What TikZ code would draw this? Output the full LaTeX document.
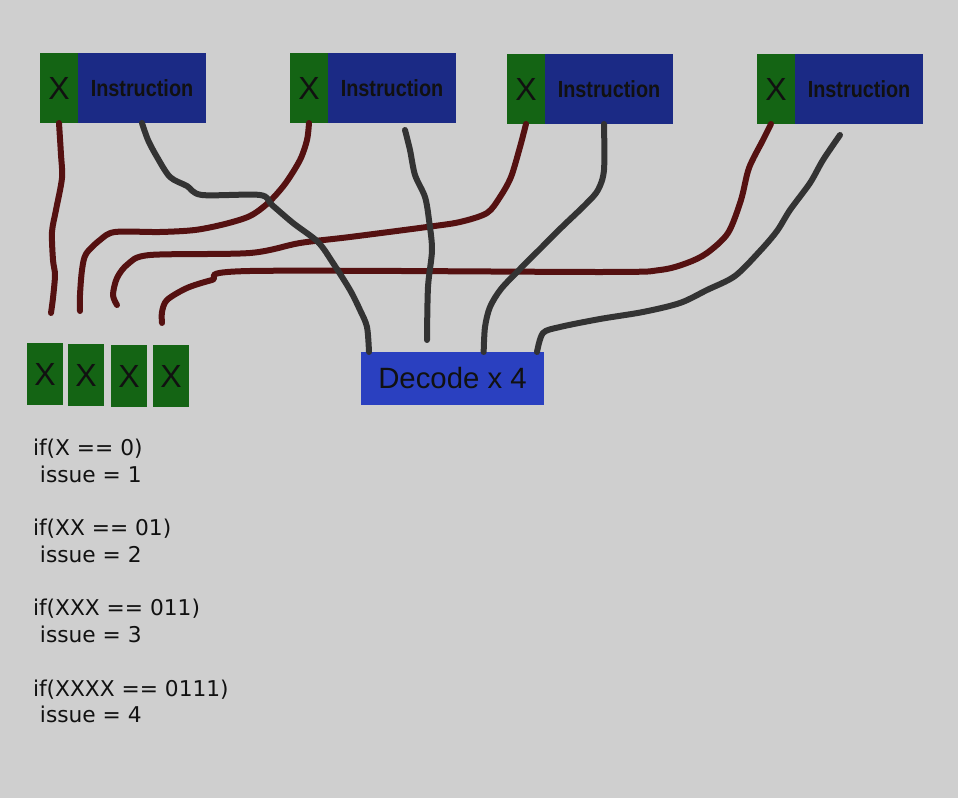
\documentclass[tikz,border=0pt]{standalone}
\usepackage{fontspec}
\setmainfont{DejaVu Sans}
\newfontfamily\boxfont{Liberation Sans}
\newfontfamily\instrfont[FakeStretch=0.85]{Liberation Sans}
\usetikzlibrary{positioning}
\definecolor{bg}{RGB}{207,207,207}
\definecolor{xgreen}{RGB}{20,100,20}
\definecolor{iblue}{RGB}{27,42,133}
\definecolor{dblue}{RGB}{42,64,192}
\definecolor{redwirec}{RGB}{85,17,17}
\definecolor{graywirec}{RGB}{51,51,51}
\definecolor{ink}{RGB}{17,17,17}

\begin{document}
\begin{tikzpicture}[x=0.75pt,y=-0.75pt,
  every node/.style={inner sep=0pt, outer sep=0pt, text=ink},
  xbox/.style={fill=xgreen, minimum width=28.5pt, minimum height=52.5pt,
    anchor=north west, font=\boxfont\fontsize{24}{26}\selectfont},
  instr/.style={fill=iblue, minimum width=96pt, minimum height=52.5pt,
    font=\instrfont\bfseries\fontsize{17.5}{20}\selectfont},
  flagbox/.style={fill=xgreen, minimum width=27pt, minimum height=46.5pt,
    anchor=north west, font=\boxfont\fontsize{24}{26}\selectfont},
  decodebox/.style={fill=dblue, minimum width=137.25pt, minimum height=39.75pt,
    anchor=north west, font=\boxfont\fontsize{22}{24}\selectfont},
  code/.style={anchor=base west, font=\fontsize{16.3}{19}\selectfont},
  redwire/.style={draw=redwirec, line width=4.5pt, line cap=round, line join=round},
  graywire/.style={draw=graywirec, line width=4.5pt, line cap=round, line join=round}
  ]
  \fill[bg] (0,0) rectangle (958,798);
  \useasboundingbox (0,0) rectangle (958,798);

  % instruction words
  \node[xbox] (x1) at (40,53) {X};
  \node[instr, right=0pt of x1] (in1) {Instruction};
  \node[xbox] (x2) at (290,53) {X};
  \node[instr, right=0pt of x2] (in2) {Instruction};
  \node[xbox] (x3) at (507,54) {X};
  \node[instr, right=0pt of x3] (in3) {Instruction};
  \node[xbox] (x4) at (757,54) {X};
  \node[instr, right=0pt of x4] (in4) {Instruction};

  % collected bits
  \node[flagbox] (b1) at (27,343) {X};
  \node[flagbox] (b2) at (68,344) {X};
  \node[flagbox] (b3) at (111,345) {X};
  \node[flagbox] (b4) at (153,345) {X};

  \node[decodebox] (dec) at (361,352) {Decode x 4};

  % loose wire ends
  \coordinate (e1) at (51,313);
  \coordinate (e2) at (80,311);
  \coordinate (e3) at (117,305);
  \coordinate (e4) at (162,323);
  \coordinate (s2) at (405,130);
  \coordinate (t2) at (427,340);
  \coordinate (s4) at (840,135);

  % X bits down to the flag boxes
  \draw[redwire] plot[smooth, tension=0.5] coordinates {(x1.south) (61,155) (62,178)
    (56,210) (52,232) (53,260) (55,275) (53,298) (e1)};
  \draw[redwire] plot[smooth, tension=0.5] coordinates {(x2.south) (307,140) (300,160)
    (285,184) (268,203) (250,216) (225,224) (195,230) (160,232) (115,232) (100,240)
    (86,254) (82,270) (80,295) (e2)};
  \draw[redwire] plot[smooth, tension=0.5] coordinates {(x3.south) (520,147) (511,177)
    (500,197) (487,213) (460,222) (427,227) (350,237) (300,243) (250,253) (150,255)
    (128,264) (117,278) (113,295) (e3)};
  \draw[redwire] plot[smooth, tension=0.5] coordinates {([xshift=-3.75pt]x4.south)
    (763,140) (749,168) (741,200) (728,233) (707,253) (687,263) (660,270) (605,272)
    (250,271) (212,280) (187,288) (167,300) (162,312) (e4)};

  % instructions into the decoders
  \draw[graywire] plot[smooth, tension=0.5] coordinates {(in1.south) (148,140) (157,157)
    (170,177) (187,186) (202,195) (260,195) (272,205) (293,223) (318,242) (333,263)
    (350,290) (360,310) (367,327) ([xshift=6pt]dec.north west)};
  \draw[graywire] plot[smooth, tension=0.5] coordinates {(s2) (410,150) (415,175)
    (425,197) (429,220) (432,250) (428,287) (t2)};
  \draw[graywire] plot[smooth, tension=0.5] coordinates {([xshift=-3.75pt]in3.south)
    (604,170) (598,190) (586,204) (562,227) (540,249) (520,269) (501,289) (490,307)
    (485,327) ([xshift=92pt]dec.north west)};
  \draw[graywire] plot[smooth, tension=0.5] coordinates {(s4) (823,160) (810,183)
    (790,210) (777,231) (760,251) (735,276) (707,290) (680,303) (643,312) (600,319)
    (560,327) (543,333) ([xshift=132pt]dec.north west)};

  % issue rules
  \foreach \c/\n [count=\i] in {X == 0/1, XX == 01/2, XXX == 011/3, XXXX == 0111/4}{
    \node[code] (if\i) at (33,{456+80*(\i-1)}) {if(\c)};
    \node[code] (iss\i) at (40,{483+80*(\i-1)}) {issue = \n};
  }
\end{tikzpicture}
\end{document}
